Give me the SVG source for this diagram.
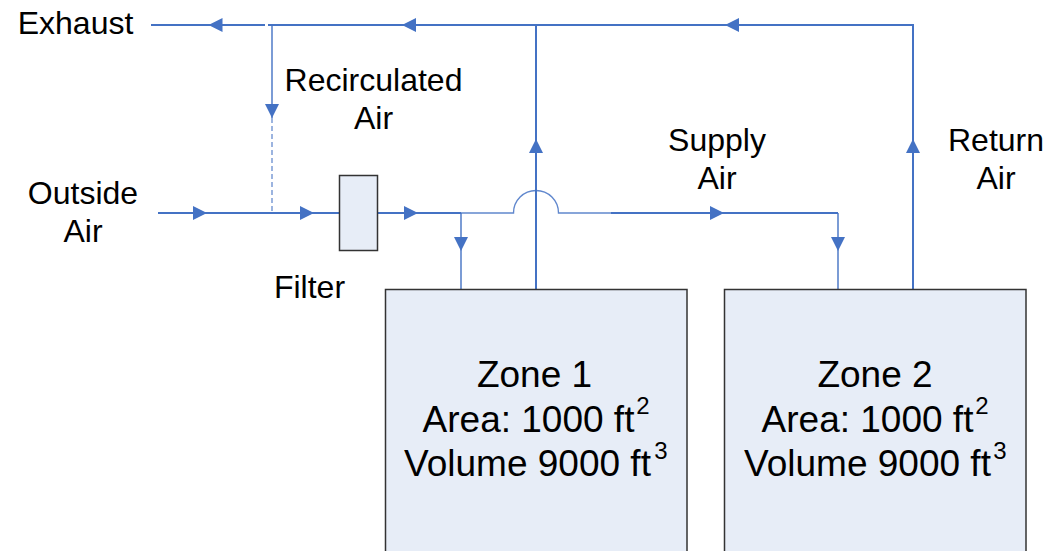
<svg xmlns="http://www.w3.org/2000/svg" width="1048" height="551" viewBox="0 0 1048 551">
<style>
text{font-family:"Liberation Sans",Arial,sans-serif;fill:#000;text-anchor:middle}
.l{font-size:32px}
.z{font-size:37px}
.s{font-size:24px}
.box{fill:#e7edf7;stroke:#333;stroke-width:1.5}
.c{fill:none;stroke:#4472c4;stroke-width:2}
.t{fill:none;stroke:#4472c4;stroke-width:1.4}
.a{fill:#4472c4;stroke:none}
</style>
<defs>
<polygon id="ar" class="a" points="7,0 -7,-7 -7,7"/>
</defs>
<rect width="1048" height="551" fill="#fff"/>
<g id="connectors">
<path class="c" d="M151 25H265M268 25H913V289"/>
<path class="c" d="M536 25V289"/>
<path class="t" d="M272 25V118"/>
<path class="t" d="M272 118V212" stroke-dasharray="5 3" opacity=".75"/>
<path class="c" d="M158 213H340"/>
<path class="c" d="M377 213H461"/>
<path class="t" d="M461 213H513.5A22.5 22.5 0 0 1 558.5 213H611" opacity=".85"/>
<path class="c" d="M611 213H838"/>
<path class="t" d="M461 213V289M838 213V289"/>
<use href="#ar" transform="translate(215.5 25) rotate(180)"/>
<use href="#ar" transform="translate(409 25) rotate(180)"/>
<use href="#ar" transform="translate(732 25) rotate(180)"/>
<use href="#ar" transform="translate(272 111) rotate(90)"/>
<use href="#ar" transform="translate(200 213)"/>
<use href="#ar" transform="translate(307 213)"/>
<use href="#ar" transform="translate(411 213)"/>
<use href="#ar" transform="translate(717 213)"/>
<use href="#ar" transform="translate(461 244) rotate(90)"/>
<use href="#ar" transform="translate(838 244) rotate(90)"/>
<use href="#ar" transform="translate(536 146) rotate(-90)"/>
<use href="#ar" transform="translate(913 146) rotate(-90)"/>
</g>
<g id="filter"><rect class="box" x="339.5" y="175.5" width="38" height="75"/></g>
<g id="zone1">
<rect class="box" x="385.5" y="289.5" width="301.5" height="280"/>
<text class="z" x="534.5" y="387">Zone 1</text>
<text class="z" x="528.5" y="432">Area: 1000 ft</text>
<text class="s" x="643" y="414">2</text>
<text class="z" x="527.5" y="476">Volume 9000 ft</text>
<text class="s" x="661" y="459">3</text>
</g>
<g id="zone2">
<rect class="box" x="724.5" y="289.5" width="301.5" height="280"/>
<text class="z" x="875" y="387">Zone 2</text>
<text class="z" x="867.5" y="432">Area: 1000 ft</text>
<text class="s" x="982" y="414">2</text>
<text class="z" x="867.5" y="476">Volume 9000 ft</text>
<text class="s" x="1000" y="459">3</text>
</g>
<g id="labels">
<text class="l" x="75.500" y="34">Exhaust</text>
<text class="l" x="373.500" y="90.500">Recirculated</text>
<text class="l" x="373.500" y="129">Air</text>
<text class="l" x="83" y="204">Outside</text>
<text class="l" x="83" y="242">Air</text>
<text class="l" x="309.500" y="298">Filter</text>
<text class="l" x="717" y="151">Supply</text>
<text class="l" x="717" y="189">Air</text>
<text class="l" x="996" y="151">Return</text>
<text class="l" x="996" y="189">Air</text>
</g>
</svg>
